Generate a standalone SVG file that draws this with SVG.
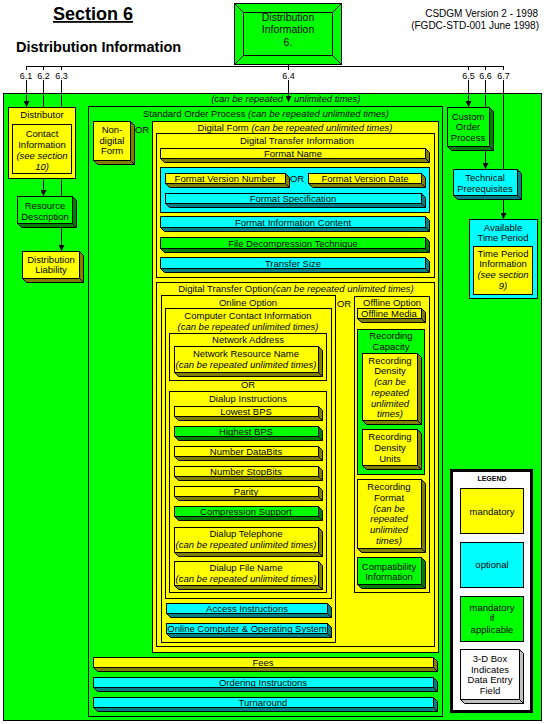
<svg xmlns="http://www.w3.org/2000/svg" width="544" height="724" viewBox="0 0 544 724">
<defs>
<style>
text{font-family:"Liberation Sans",Arial,sans-serif;font-size:9.5px;fill:#000;text-anchor:middle}
.i{font-style:italic}
.st{stroke:#000;stroke-width:1}
.y{fill:#ff0;stroke:#000}
.c{fill:#0ff;stroke:#000}
.g{fill:#0f0;stroke:#000}
.w{fill:#fff;stroke:#000}
.yd{fill:#808000;stroke:#000}
.cd{fill:#008080;stroke:#000}
.gd{fill:#008000;stroke:#000}
.wd{fill:#c0c0c0;stroke:#000}
.e{stroke:#000;fill:none}
.ln{stroke:#000;fill:none;stroke-width:1}
.lb{font-size:9px}
</style>
<marker id="ah" viewBox="0 0 6 6" refX="6" refY="3" markerWidth="6" markerHeight="6" markerUnits="userSpaceOnUse" orient="auto">
<path d="M0,0 L6,3 L0,6 z" fill="#000"/>
</marker>
</defs>
<rect width="544" height="724" fill="#fff"/>

<g id="titles">
<text x="93" y="20" style="font-size:18px;font-weight:bold;text-decoration:underline">Section 6</text>
<text x="16" y="52" style="font-size:14.5px;font-weight:bold;text-anchor:start">Distribution Information</text>
<text x="538" y="16.5" style="font-size:10px;text-anchor:end">CSDGM Version 2 - 1998</text>
<text x="539" y="28.5" style="font-size:10px;text-anchor:end">(FGDC-STD-001 June 1998)</text>
</g>

<g id="n6">
<rect class="g" x="234.5" y="3.5" width="107" height="61"/>
<rect class="g" x="243.5" y="12.5" width="89" height="43"/>
<path class="e" d="M234.5,3.5 L243.5,12.5 M341.5,3.5 L332.5,12.5 M234.5,64.5 L243.5,55.5 M341.5,64.5 L332.5,55.5"/>
<text x="288" y="21" style="font-size:10.5px">Distribution</text>
<text x="288" y="33" style="font-size:10.5px">Information</text>
<text x="288" y="46" style="font-size:10.5px">6.</text>
</g>

<g id="outer">
<rect class="g" x="3.5" y="93.5" width="538" height="627"/>
</g>

<g id="connectors">
<path class="ln" d="M26,66.5 H504 M288.5,65 V66.5"/>
<path class="ln" d="M26.5,66.5 V70 M43.5,66.5 V70 M61.5,66.5 V70 M288.5,66.5 V70 M468.5,66.5 V70 M485.5,66.5 V70 M503.5,66.5 V70"/>
<line class="ln" x1="26.5" y1="80" x2="26.5" y2="107" marker-end="url(#ah)"/>
<line class="ln" x1="43.5" y1="80" x2="43.5" y2="196" marker-end="url(#ah)"/>
<line class="ln" x1="61.5" y1="80" x2="61.5" y2="251" marker-end="url(#ah)"/>
<line class="ln" x1="288.5" y1="80" x2="288.5" y2="102" marker-end="url(#ah)"/>
<line class="ln" x1="468.5" y1="80" x2="468.5" y2="107" marker-end="url(#ah)"/>
<line class="ln" x1="485.5" y1="80" x2="485.5" y2="169" marker-end="url(#ah)"/>
<line class="ln" x1="503.5" y1="80" x2="503.5" y2="219" marker-end="url(#ah)"/>
<text class="lb" x="26" y="78.5">6.1</text>
<text class="lb" x="43.5" y="78.5">6.2</text>
<text class="lb" x="61.5" y="78.5">6.3</text>
<text class="lb" x="288.5" y="78.5">6.4</text>
<text class="lb" x="468.5" y="78.5">6.5</text>
<text class="lb" x="485.5" y="78.5">6.6</text>
<text class="lb" x="503.5" y="78.5">6.7</text>
<text class="i" y="101.5"><tspan x="283" style="text-anchor:end">(can be repeated</tspan><tspan x="294" style="text-anchor:start">unlimited times)</tspan></text>
</g>

<g id="n6_1">
<rect class="y" x="8.5" y="107.5" width="67" height="71"/>
<text x="42" y="117.5">Distributor</text>
<rect class="y" x="12.5" y="124.5" width="59" height="49"/>
<text x="42" y="136.5">Contact</text>
<text x="42" y="147.5">Information</text>
<text x="42" y="158.5" class="i">(see section</text>
<text x="42" y="169.5" class="i">10)</text>
</g>

<g id="n6_2">
<polygon class="gd" points="17.5,223.5 21.5,227.5 76.5,227.5 76.5,200.5 72.5,196.5"/>
<rect class="g" x="17.5" y="196.5" width="55" height="27"/>
<line class="e" x1="72.5" y1="223.5" x2="76.5" y2="227.5"/>
<text x="45" y="208.5">Resource</text>
<text x="45" y="219.5">Description</text>
</g>

<g id="n6_3">
<polygon class="yd" points="22.5,278.5 26.5,282.5 83.5,282.5 83.5,255.5 79.5,251.5"/>
<rect class="y" x="22.5" y="251.5" width="57" height="27"/>
<line class="e" x1="79.5" y1="278.5" x2="83.5" y2="282.5"/>
<text x="51" y="262.5">Distribution</text>
<text x="51" y="273">Liability</text>
</g>

<g id="n6_4">
<rect class="g" x="88.5" y="106.5" width="354" height="610"/>
<text x="266" y="116.5">Standard Order Process <tspan class="i">(can be repeated unlimited times)</tspan></text>
</g>

<g id="nondigital">
<polygon class="yd" points="93.5,160.5 97.5,164.5 134.5,164.5 134.5,125.5 130.5,121.5"/>
<rect class="y" x="93.5" y="121.5" width="37" height="39"/>
<line class="e" x1="130.5" y1="160.5" x2="134.5" y2="164.5"/>
<text x="112" y="132.5">Non-</text>
<text x="112" y="143.5">digital</text>
<text x="112" y="154">Form</text>
<text x="142" y="132.5">OR</text>
</g>

<g id="digitalform">
<rect class="y" x="152.5" y="121.5" width="286" height="531"/>
<text x="295" y="130.5">Digital Form <tspan class="i">(can be repeated unlimited times)</tspan></text>
</g>

<g id="dti">
<rect class="y" x="156.5" y="133.5" width="278" height="144"/>
<text x="297" y="143.5">Digital Transfer Information</text>
</g>

<g id="formatname">
<polygon class="yd" points="160.5,158.5 164.5,162.5 429.5,162.5 429.5,152.5 425.5,148.5"/>
<rect class="y" x="160.5" y="148.5" width="265" height="10"/>
<line class="e" x1="425.5" y1="158.5" x2="429.5" y2="162.5"/>
<text x="293" y="157">Format Name</text>
</g>

<g id="versiongroup">
<rect class="c" x="160.5" y="167.5" width="269" height="45"/>
<text x="297" y="181.5">OR</text>
</g>

<g id="fvn">
<polygon class="yd" points="165.5,183.5 169.5,187.5 289.5,187.5 289.5,177.5 285.5,173.5"/>
<rect class="y" x="165.5" y="173.5" width="120" height="10"/>
<line class="e" x1="285.5" y1="183.5" x2="289.5" y2="187.5"/>
<text x="225" y="182">Format Version Number</text>
</g>

<g id="fvd">
<polygon class="yd" points="308.5,183.5 312.5,187.5 425.5,187.5 425.5,177.5 421.5,173.5"/>
<rect class="y" x="308.5" y="173.5" width="113" height="10"/>
<line class="e" x1="421.5" y1="183.5" x2="425.5" y2="187.5"/>
<text x="365" y="182">Format Version Date</text>
</g>

<g id="fs">
<polygon class="cd" points="165.5,203.5 169.5,207.5 425.5,207.5 425.5,197.5 421.5,193.5"/>
<rect class="c" x="165.5" y="193.5" width="256" height="10"/>
<line class="e" x1="421.5" y1="203.5" x2="425.5" y2="207.5"/>
<text x="293" y="202">Format Specification</text>
</g>

<g id="fic">
<polygon class="cd" points="160.5,227.5 164.5,231.5 429.5,231.5 429.5,220.5 425.5,216.5"/>
<rect class="c" x="160.5" y="216.5" width="265" height="11"/>
<line class="e" x1="425.5" y1="227.5" x2="429.5" y2="231.5"/>
<text x="293" y="225.5">Format Information Content</text>
</g>

<g id="fdt">
<polygon class="gd" points="160.5,248.5 164.5,252.5 429.5,252.5 429.5,241.5 425.5,237.5"/>
<rect class="g" x="160.5" y="237.5" width="265" height="11"/>
<line class="e" x1="425.5" y1="248.5" x2="429.5" y2="252.5"/>
<text x="293" y="246.5">File Decompression Technique</text>
</g>

<g id="ts">
<polygon class="cd" points="160.5,268.5 164.5,272.5 429.5,272.5 429.5,261.5 425.5,257.5"/>
<rect class="c" x="160.5" y="257.5" width="265" height="11"/>
<line class="e" x1="425.5" y1="268.5" x2="429.5" y2="272.5"/>
<text x="293" y="266.5">Transfer Size</text>
</g>

<g id="dto">
<rect class="y" x="156.5" y="282.5" width="278" height="364"/>
<text x="296" y="291.5">Digital Transfer Option<tspan class="i">(can be repeated unlimited times)</tspan></text>
</g>

<g id="online">
<rect class="y" x="161.5" y="295.5" width="174" height="347"/>
<text x="248" y="305.5">Online Option</text>
<text x="344" y="306.5">OR</text>
</g>

<g id="cci">
<rect class="y" x="165.5" y="308.5" width="166" height="290"/>
<text x="248" y="318.5">Computer Contact Information</text>
<text x="248" y="329.5" class="i">(can be repeated unlimited times)</text>
</g>

<g id="netaddr">
<rect class="y" x="169.5" y="333.5" width="157" height="47"/>
<text x="248" y="342.5">Network Address</text>
<text x="248" y="387.5">OR</text>
</g>

<g id="nrn">
<polygon class="yd" points="174.5,372.5 178.5,376.5 322.5,376.5 322.5,350.5 318.5,346.5"/>
<rect class="y" x="174.5" y="346.5" width="144" height="26"/>
<line class="e" x1="318.5" y1="372.5" x2="322.5" y2="376.5"/>
<text x="246" y="356.5">Network Resource Name</text>
<text x="246" y="367.5" class="i">(can be repeated unlimited times)</text>
</g>

<g id="dialup">
<rect class="y" x="169.5" y="391.5" width="157" height="201"/>
<text x="248" y="401.5">Dialup Instructions</text>
</g>

<g id="lowbps">
<polygon class="yd" points="174.5,416.5 178.5,420.5 322.5,420.5 322.5,410.5 318.5,406.5"/>
<rect class="y" x="174.5" y="406.5" width="144" height="10"/>
<line class="e" x1="318.5" y1="416.5" x2="322.5" y2="420.5"/>
<text x="246" y="415">Lowest BPS</text>
</g>

<g id="highbps">
<polygon class="gd" points="174.5,436.5 178.5,440.5 322.5,440.5 322.5,430.5 318.5,426.5"/>
<rect class="g" x="174.5" y="426.5" width="144" height="10"/>
<line class="e" x1="318.5" y1="436.5" x2="322.5" y2="440.5"/>
<text x="246" y="435">Highest BPS</text>
</g>

<g id="databits">
<polygon class="yd" points="174.5,456.5 178.5,460.5 322.5,460.5 322.5,450.5 318.5,446.5"/>
<rect class="y" x="174.5" y="446.5" width="144" height="10"/>
<line class="e" x1="318.5" y1="456.5" x2="322.5" y2="460.5"/>
<text x="246" y="455">Number DataBits</text>
</g>

<g id="stopbits">
<polygon class="yd" points="174.5,476.5 178.5,480.5 322.5,480.5 322.5,470.5 318.5,466.5"/>
<rect class="y" x="174.5" y="466.5" width="144" height="10"/>
<line class="e" x1="318.5" y1="476.5" x2="322.5" y2="480.5"/>
<text x="246" y="475">Number StopBits</text>
</g>

<g id="parity">
<polygon class="yd" points="174.5,496.5 178.5,500.5 322.5,500.5 322.5,490.5 318.5,486.5"/>
<rect class="y" x="174.5" y="486.5" width="144" height="10"/>
<line class="e" x1="318.5" y1="496.5" x2="322.5" y2="500.5"/>
<text x="246" y="495">Parity</text>
</g>

<g id="compression">
<polygon class="gd" points="174.5,516.5 178.5,520.5 322.5,520.5 322.5,510.5 318.5,506.5"/>
<rect class="g" x="174.5" y="506.5" width="144" height="10"/>
<line class="e" x1="318.5" y1="516.5" x2="322.5" y2="520.5"/>
<text x="246" y="515">Compression Support</text>
</g>

<g id="telephone">
<polygon class="yd" points="174.5,552.5 178.5,556.5 322.5,556.5 322.5,531.5 318.5,527.5"/>
<rect class="y" x="174.5" y="527.5" width="144" height="25"/>
<line class="e" x1="318.5" y1="552.5" x2="322.5" y2="556.5"/>
<text x="246" y="536.5">Dialup Telephone</text>
<text x="246" y="547.5" class="i">(can be repeated unlimited times)</text>
</g>

<g id="filename">
<polygon class="yd" points="174.5,585.5 178.5,589.5 322.5,589.5 322.5,565.5 318.5,561.5"/>
<rect class="y" x="174.5" y="561.5" width="144" height="24"/>
<line class="e" x1="318.5" y1="585.5" x2="322.5" y2="589.5"/>
<text x="246" y="570.5">Dialup File Name</text>
<text x="246" y="581.5" class="i">(can be repeated unlimited times)</text>
</g>

<g id="access">
<polygon class="cd" points="166.5,613.5 170.5,617.5 331.5,617.5 331.5,607.5 327.5,603.5"/>
<rect class="c" x="166.5" y="603.5" width="161" height="10"/>
<line class="e" x1="327.5" y1="613.5" x2="331.5" y2="617.5"/>
<text x="247" y="612">Access Instructions</text>
</g>

<g id="onlinecomp">
<polygon class="cd" points="166.5,633.5 170.5,637.5 331.5,637.5 331.5,627.5 327.5,623.5"/>
<rect class="c" x="166.5" y="623.5" width="161" height="10"/>
<line class="e" x1="327.5" y1="633.5" x2="331.5" y2="637.5"/>
<text x="247" y="632">Online Computer &amp; Operating System</text>
</g>

<g id="offline">
<rect class="y" x="354.5" y="296.5" width="75" height="296"/>
<text x="392" y="305.5">Offline Option</text>
</g>

<g id="offmedia">
<polygon class="yd" points="357.5,318.5 361.5,322.5 425.5,322.5 425.5,312.5 421.5,308.5"/>
<rect class="y" x="357.5" y="308.5" width="64" height="10"/>
<line class="e" x1="421.5" y1="318.5" x2="425.5" y2="322.5"/>
<text x="389" y="317">Offline Media</text>
</g>

<g id="reccap">
<rect class="g" x="357.5" y="329.5" width="67" height="145"/>
<text x="391" y="338.5">Recording</text>
<text x="391" y="349.5">Capacity</text>
</g>

<g id="recdens">
<polygon class="yd" points="362.5,420.5 366.5,424.5 421.5,424.5 421.5,357.5 417.5,353.5"/>
<rect class="y" x="362.5" y="353.5" width="55" height="67"/>
<line class="e" x1="417.5" y1="420.5" x2="421.5" y2="424.5"/>
<text x="390" y="363.5">Recording</text>
<text x="390" y="374">Density</text>
<text x="390" y="384.5" class="i">(can be</text>
<text x="390" y="395.5" class="i">repeated</text>
<text x="390" y="406.5" class="i">unlimited</text>
<text x="390" y="417" class="i">times)</text>
</g>

<g id="recdensunits">
<polygon class="yd" points="362.5,465.5 366.5,469.5 421.5,469.5 421.5,433.5 417.5,429.5"/>
<rect class="y" x="362.5" y="429.5" width="55" height="36"/>
<line class="e" x1="417.5" y1="465.5" x2="421.5" y2="469.5"/>
<text x="390" y="439.5">Recording</text>
<text x="390" y="450.5">Density</text>
<text x="390" y="461.5">Units</text>
</g>

<g id="recformat">
<polygon class="yd" points="357.5,548.5 361.5,552.5 425.5,552.5 425.5,483.5 421.5,479.5"/>
<rect class="y" x="357.5" y="479.5" width="64" height="69"/>
<line class="e" x1="421.5" y1="548.5" x2="425.5" y2="552.5"/>
<text x="389" y="489.5">Recording</text>
<text x="389" y="500.5">Format</text>
<text x="389" y="511.5" class="i">(can be</text>
<text x="389" y="521.5" class="i">repeated</text>
<text x="389" y="532.5" class="i">unlimited</text>
<text x="389" y="543.5" class="i">times)</text>
</g>

<g id="compat">
<polygon class="gd" points="357.5,584.5 361.5,588.5 425.5,588.5 425.5,561.5 421.5,557.5"/>
<rect class="g" x="357.5" y="557.5" width="64" height="27"/>
<line class="e" x1="421.5" y1="584.5" x2="425.5" y2="588.5"/>
<text x="389" y="569.5">Compatibility</text>
<text x="389" y="580">Information</text>
</g>

<g id="fees">
<polygon class="yd" points="93.5,667.5 97.5,671.5 437.5,671.5 437.5,661.5 433.5,657.5"/>
<rect class="y" x="93.5" y="657.5" width="340" height="10"/>
<line class="e" x1="433.5" y1="667.5" x2="437.5" y2="671.5"/>
<text x="263" y="666">Fees</text>
</g>

<g id="ordering">
<polygon class="cd" points="93.5,687.5 97.5,691.5 437.5,691.5 437.5,681.5 433.5,677.5"/>
<rect class="c" x="93.5" y="677.5" width="340" height="10"/>
<line class="e" x1="433.5" y1="687.5" x2="437.5" y2="691.5"/>
<text x="263" y="686">Ordering Instructions</text>
</g>

<g id="turnaround">
<polygon class="cd" points="93.5,707.5 97.5,711.5 437.5,711.5 437.5,701.5 433.5,697.5"/>
<rect class="c" x="93.5" y="697.5" width="340" height="10"/>
<line class="e" x1="433.5" y1="707.5" x2="437.5" y2="711.5"/>
<text x="263" y="706">Turnaround</text>
</g>

<g id="n6_5">
<polygon class="gd" points="447.5,146.5 451.5,150.5 493.5,150.5 493.5,111.5 489.5,107.5"/>
<rect class="g" x="447.5" y="107.5" width="42" height="39"/>
<line class="e" x1="489.5" y1="146.5" x2="493.5" y2="150.5"/>
<text x="468" y="119.5">Custom</text>
<text x="468" y="130">Order</text>
<text x="468" y="140.5">Process</text>
</g>

<g id="n6_6">
<polygon class="cd" points="453.5,195.5 457.5,199.5 521.5,199.5 521.5,173.5 517.5,169.5"/>
<rect class="c" x="453.5" y="169.5" width="64" height="26"/>
<line class="e" x1="517.5" y1="195.5" x2="521.5" y2="199.5"/>
<text x="485" y="180.5">Technical</text>
<text x="485" y="191.5">Prerequisites</text>
</g>

<g id="n6_7">
<rect class="c" x="469.5" y="219.5" width="68" height="79"/>
<text x="503" y="230.5">Available</text>
<text x="503" y="240.5">Time Period</text>
<rect class="y" x="473.5" y="246.5" width="59" height="48"/>
<text x="503" y="256.5">Time Period</text>
<text x="503" y="267">Information</text>
<text x="503" y="277.5" class="i">(see section</text>
<text x="503" y="288.5" class="i">9)</text>
</g>

<g id="legend">
<rect x="451.5" y="470.5" width="80" height="241" fill="#fff" stroke="#000" stroke-width="3"/>
<text x="492" y="481" style="font-size:7px;font-weight:bold">LEGEND</text>
<rect class="y" x="460.5" y="488.5" width="63" height="45"/>
<text x="492" y="514.5">mandatory</text>
<rect class="c" x="460.5" y="542.5" width="63" height="45"/>
<text x="492" y="567.5">optional</text>
<rect class="g" x="460.5" y="596.5" width="63" height="45"/>
<text x="492" y="610.5">mandatory</text>
<text x="492" y="621">if</text>
<text x="492" y="632.5">applicable</text>
<polygon class="wd" points="460.5,699.5 464.5,703.5 523.5,703.5 523.5,653.5 519.5,649.5"/>
<rect class="w" x="460.5" y="649.5" width="59" height="50"/>
<line class="e" x1="519.5" y1="699.5" x2="523.5" y2="703.5"/>
<text x="490" y="661.5">3-D Box</text>
<text x="490" y="672.5">Indicates</text>
<text x="490" y="682.5">Data Entry</text>
<text x="490" y="693.5">Field</text>
</g>
</svg>
